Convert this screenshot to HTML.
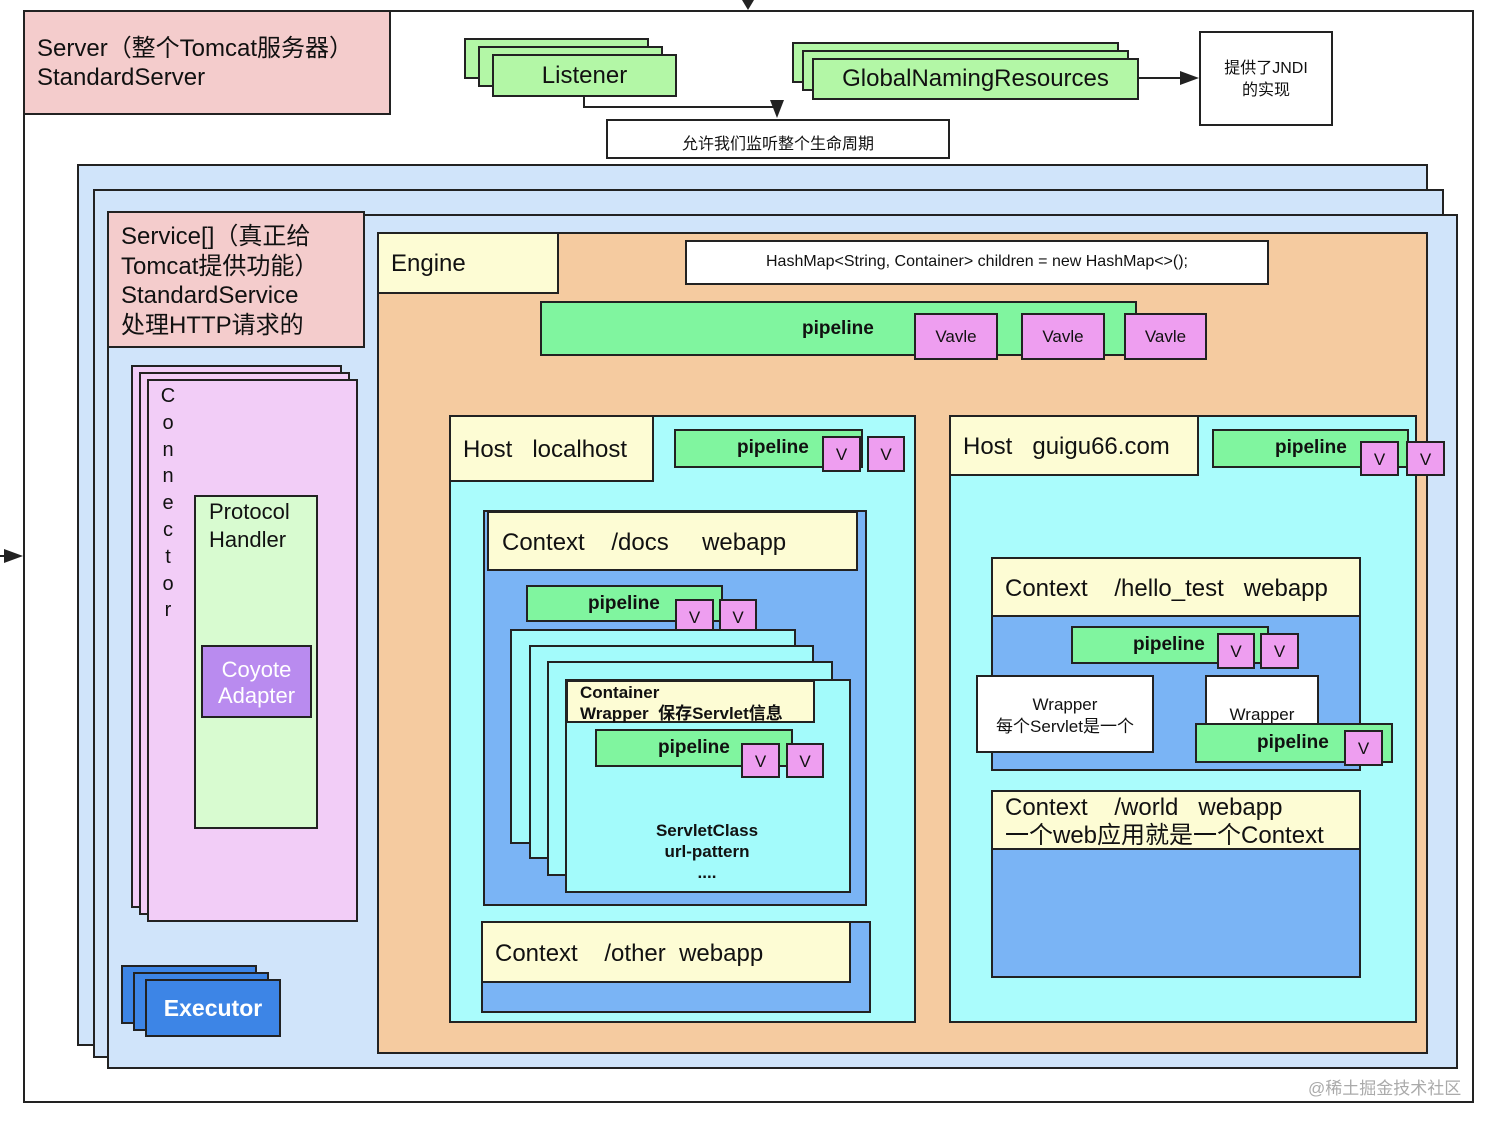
<!DOCTYPE html>
<html><head><meta charset="utf-8">
<style>
html,body{margin:0;padding:0;width:1496px;height:1124px;background:#fff;overflow:hidden}
body{position:relative;font-family:"Liberation Sans","Noto Sans CJK SC",sans-serif;color:#111}
.b{position:absolute;border:2px solid #222;box-sizing:border-box}
.t{position:absolute;white-space:nowrap}
.pink{background:#f4cccc}.lg{background:#b3f7a6}.lb{background:#d0e4fa}
.or{background:#f5cba0}.ye{background:#fdfcd4}.gr{background:#80f59f}
.vv{background:#ee9ef0;text-align:center;font-size:17px}
.cy{background:#aafcfc}.bl{background:#7ab4f5}.wc{background:#a3fbfb}
.pk{background:#f2cdf7}.ex{background:#3d85e6}
.pl{font-weight:bold;font-size:19px}
</style></head><body>
<svg width="1496" height="1124" style="position:absolute;left:0;top:0">
<g stroke="#222" stroke-width="2" fill="none">
<line x1="748" y1="0" x2="748" y2="4"/>
<polyline points="584,96 584,107 777,107 777,112"/>
<line x1="1138" y1="78" x2="1185" y2="78"/>
<line x1="558" y1="263" x2="670" y2="263"/>
<line x1="0" y1="556" x2="10" y2="556"/>
</g>
<g fill="#222">
<polygon points="742,0 754,0 748,10"/>
<polygon points="770,100 784,100 777,118"/>
<polygon points="1180,71 1180,85 1199,78"/>
<polygon points="664,256 664,270 685,263"/>
<polygon points="4,549 4,563 23,556"/>
</g>
</svg>

<div class="b" style="left:23px;top:10px;width:1451px;height:1093px;"></div>
<div class="b pink" style="left:23px;top:10px;width:368px;height:105px;"></div>
<div class="t" style="left:37px;top:34px;font-size:24px;line-height:29px">Server（整个Tomcat服务器）<br>StandardServer</div>

<div class="b lg" style="left:464px;top:38px;width:185px;height:41px"></div>
<div class="b lg" style="left:478px;top:46px;width:185px;height:41px"></div>
<div class="b lg" style="left:492px;top:54px;width:185px;height:43px"></div>
<div class="t" style="left:492px;top:62px;width:185px;text-align:center;font-size:24px">Listener</div>

<div class="b" style="left:606px;top:119px;width:344px;height:40px;background:#fff"></div>
<div class="t" style="left:606px;top:130px;width:344px;text-align:center;font-size:16px">允许我们监听整个生命周期</div>

<div class="b lg" style="left:792px;top:42px;width:327px;height:41px"></div>
<div class="b lg" style="left:802px;top:50px;width:327px;height:41px"></div>
<div class="b lg" style="left:812px;top:58px;width:327px;height:42px"></div>
<div class="t" style="left:812px;top:65px;width:327px;text-align:center;font-size:24px">GlobalNamingResources</div>

<div class="b" style="left:1199px;top:31px;width:134px;height:95px;background:#fff"></div>
<div class="t" style="left:1199px;top:58px;width:134px;text-align:center;font-size:16px;line-height:22px">提供了JNDI<br>的实现</div>

<div class="b lb" style="left:77px;top:164px;width:1351px;height:882px"></div>
<div class="b lb" style="left:93px;top:189px;width:1351px;height:869px"></div>
<div class="b lb" style="left:107px;top:214px;width:1351px;height:855px"></div>
<div class="b pink" style="left:107px;top:211px;width:258px;height:137px"></div>
<div class="t" style="left:121px;top:222px;font-size:24px;line-height:29.5px">Service[]（真正给<br>Tomcat提供功能）<br>StandardService<br>处理HTTP请求的</div>

<!-- Connector -->
<div class="b pk" style="left:131px;top:365px;width:211px;height:543px"></div>
<div class="b pk" style="left:139px;top:372px;width:211px;height:543px"></div>
<div class="b pk" style="left:147px;top:379px;width:211px;height:543px"></div>
<div class="t" style="left:160px;top:383px;font-size:20px;line-height:26.8px;width:16px;text-align:center;white-space:normal">C<br>o<br>n<br>n<br>e<br>c<br>t<br>o<br>r</div>
<div class="b" style="left:194px;top:495px;width:124px;height:334px;background:#d8fbd0"></div>
<div class="t" style="left:209px;top:498px;font-size:22px;line-height:28px">Protocol<br>Handler</div>
<div class="b" style="left:201px;top:645px;width:111px;height:73px;background:#b98bef"></div>
<div class="t" style="left:201px;top:657px;width:111px;text-align:center;font-size:22px;line-height:26px;color:#fff">Coyote<br>Adapter</div>

<div class="b ex" style="left:121px;top:965px;width:136px;height:59px"></div>
<div class="b ex" style="left:133px;top:972px;width:136px;height:59px"></div>
<div class="b ex" style="left:145px;top:979px;width:136px;height:58px"></div>
<div class="t" style="left:145px;top:995px;width:136px;text-align:center;font-size:23px;font-weight:bold;color:#fff">Executor</div>

<!-- Engine -->
<div class="b or" style="left:377px;top:232px;width:1051px;height:822px"></div>
<div class="b ye" style="left:377px;top:232px;width:182px;height:62px"></div>
<div class="t" style="left:391px;top:250px;font-size:24px">Engine</div>
<div class="b" style="left:685px;top:240px;width:584px;height:45px;background:#fff"></div>
<div class="t" style="left:685px;top:253px;width:584px;text-align:center;font-size:16px">HashMap&lt;String, Container&gt; children = new HashMap&lt;&gt;();</div>

<div class="b gr" style="left:540px;top:301px;width:597px;height:55px"></div>
<div class="t pl" style="left:802px;top:318px">pipeline</div>
<div class="b vv" style="left:914px;top:313px;width:84px;height:47px;line-height:43px">Vavle</div>
<div class="b vv" style="left:1021px;top:313px;width:84px;height:47px;line-height:43px">Vavle</div>
<div class="b vv" style="left:1124px;top:313px;width:83px;height:47px;line-height:43px">Vavle</div>

<!-- Host localhost -->
<div class="b cy" style="left:449px;top:415px;width:467px;height:608px"></div>
<div class="b ye" style="left:449px;top:415px;width:205px;height:67px"></div>
<div class="t" style="left:463px;top:436px;font-size:24px">Host &nbsp; localhost</div>
<div class="b gr" style="left:674px;top:429px;width:189px;height:39px"></div>
<div class="t pl" style="left:737px;top:437px">pipeline</div>
<div class="b vv" style="left:822px;top:436px;width:39px;height:36px;line-height:34px">V</div>
<div class="b vv" style="left:867px;top:436px;width:38px;height:36px;line-height:34px">V</div>

<div class="b bl" style="left:483px;top:510px;width:384px;height:396px"></div>
<div class="b ye" style="left:487px;top:511px;width:371px;height:60px"></div>
<div class="t" style="left:502px;top:529px;font-size:24px">Context &nbsp;&nbsp; /docs &nbsp;&nbsp;&nbsp; webapp</div>
<div class="b gr" style="left:526px;top:585px;width:197px;height:37px"></div>
<div class="t pl" style="left:588px;top:593px">pipeline</div>
<div class="b vv" style="left:675px;top:599px;width:39px;height:36px;line-height:34px">V</div>
<div class="b vv" style="left:719px;top:599px;width:38px;height:36px;line-height:34px">V</div>
<div class="b wc" style="left:510px;top:629px;width:286px;height:215px"></div>
<div class="b wc" style="left:529px;top:645px;width:285px;height:214px"></div>
<div class="b wc" style="left:547px;top:661px;width:286px;height:215px"></div>
<div class="b wc" style="left:565px;top:679px;width:286px;height:214px"></div>
<div class="b ye" style="left:566px;top:680px;width:249px;height:43px"></div>
<div class="t" style="left:580px;top:682px;font-size:17px;font-weight:bold;line-height:21px">Container<br>Wrapper &nbsp;保存Servlet信息</div>
<div class="b gr" style="left:595px;top:729px;width:198px;height:38px"></div>
<div class="t pl" style="left:658px;top:737px">pipeline</div>
<div class="b vv" style="left:741px;top:743px;width:39px;height:35px;line-height:33px">V</div>
<div class="b vv" style="left:786px;top:743px;width:38px;height:35px;line-height:33px">V</div>
<div class="t" style="left:607px;top:820px;width:200px;text-align:center;font-size:17px;font-weight:bold;line-height:21px">ServletClass<br>url-pattern<br>....</div>

<div class="b bl" style="left:481px;top:921px;width:390px;height:92px"></div>
<div class="b ye" style="left:481px;top:921px;width:370px;height:62px"></div>
<div class="t" style="left:495px;top:940px;font-size:24px">Context &nbsp;&nbsp; /other &nbsp;webapp</div>

<!-- Host guigu -->
<div class="b cy" style="left:949px;top:415px;width:468px;height:608px"></div>
<div class="b ye" style="left:949px;top:415px;width:250px;height:61px"></div>
<div class="t" style="left:963px;top:433px;font-size:24px">Host &nbsp; guigu66.com</div>
<div class="b gr" style="left:1212px;top:429px;width:197px;height:39px"></div>
<div class="t pl" style="left:1275px;top:437px">pipeline</div>
<div class="b vv" style="left:1360px;top:441px;width:39px;height:35px;line-height:33px">V</div>
<div class="b vv" style="left:1406px;top:441px;width:39px;height:35px;line-height:33px">V</div>

<div class="b bl" style="left:991px;top:557px;width:370px;height:214px"></div>
<div class="b ye" style="left:991px;top:557px;width:370px;height:60px"></div>
<div class="t" style="left:1005px;top:575px;font-size:24px">Context &nbsp;&nbsp; /hello_test &nbsp; webapp</div>
<div class="b gr" style="left:1071px;top:626px;width:198px;height:38px"></div>
<div class="t pl" style="left:1133px;top:634px">pipeline</div>
<div class="b vv" style="left:1217px;top:633px;width:38px;height:36px;line-height:34px">V</div>
<div class="b vv" style="left:1260px;top:633px;width:39px;height:36px;line-height:34px">V</div>
<div class="b" style="left:976px;top:675px;width:178px;height:78px;background:#fff"></div>
<div class="t" style="left:976px;top:694px;width:178px;text-align:center;font-size:17px;line-height:22px">Wrapper<br>每个Servlet是一个</div>
<div class="b" style="left:1205px;top:675px;width:114px;height:60px;background:#fff"></div>
<div class="t" style="left:1205px;top:705px;width:114px;text-align:center;font-size:17px">Wrapper</div>
<div class="b gr" style="left:1195px;top:723px;width:198px;height:40px"></div>
<div class="t pl" style="left:1257px;top:732px">pipeline</div>
<div class="b vv" style="left:1344px;top:730px;width:39px;height:36px;line-height:34px">V</div>

<div class="b bl" style="left:991px;top:790px;width:370px;height:188px"></div>
<div class="b ye" style="left:991px;top:790px;width:370px;height:60px"></div>
<div class="t" style="left:1005px;top:794px;font-size:24px;line-height:28px">Context &nbsp;&nbsp; /world &nbsp; webapp<br>一个web应用就是一个Context</div>

<div class="t" style="left:1308px;top:1074px;font-size:17px;color:#aaa">@稀土掘金技术社区</div>
</body></html>
